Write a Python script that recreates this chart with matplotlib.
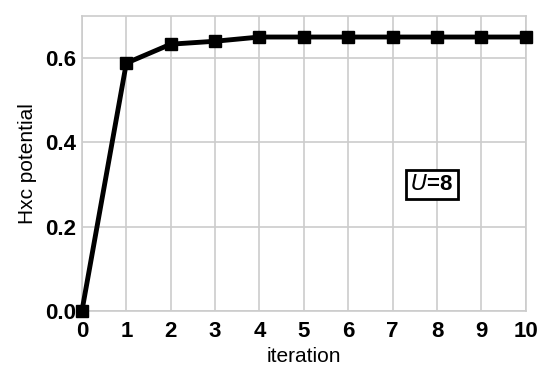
import numpy as np
import matplotlib.pyplot as plt

plt.rcParams['font.family'] = ['Liberation Sans', 'DejaVu Sans']

iteration = [0, 1, 2, 3, 4, 5, 6, 7, 8, 9, 10]
hxc = [0.0, 0.588, 0.633, 0.640, 0.650, 0.650, 0.650, 0.650, 0.650, 0.650, 0.650]

fig = plt.figure(figsize=(5.5, 3.8), dpi=100)
ax = fig.add_axes([0.149, 0.182, 0.807, 0.776])

ax.plot(iteration, hxc, color="black", lw=3.5, marker="s", ms=9, clip_on=False, zorder=3)

ax.set_xlim(0, 10)
ax.set_ylim(0, 0.7)
ax.set_xticks(range(0, 11))
ax.set_yticks([0.0, 0.2, 0.4, 0.6])
ax.set_yticklabels(["0.0", "0.2", "0.4", "0.6"])
ax.grid(True, color="#cccccc", lw=1.2)
ax.set_axisbelow(True)
for s in ax.spines.values():
    s.set_color("#cccccc")
    s.set_linewidth(1.2)
ax.tick_params(length=0, labelsize=16)
ax.tick_params(axis="x", pad=7)
ax.tick_params(axis="y", pad=4)
for lab in ax.get_xticklabels() + ax.get_yticklabels():
    lab.set_fontweight("bold")

ax.set_xlabel("iteration", fontsize=15, labelpad=4)
ax.set_ylabel("Hxc potential", fontsize=15, labelpad=6)

ax.text(7.88, 0.30, "$\\bf{\\it{U}}$=8", fontsize=16, fontweight="bold", ha="center", va="center",
        bbox=dict(boxstyle="square,pad=0.2", fc="white", ec="black", lw=2))

plt.savefig("out.png", dpi=100)
